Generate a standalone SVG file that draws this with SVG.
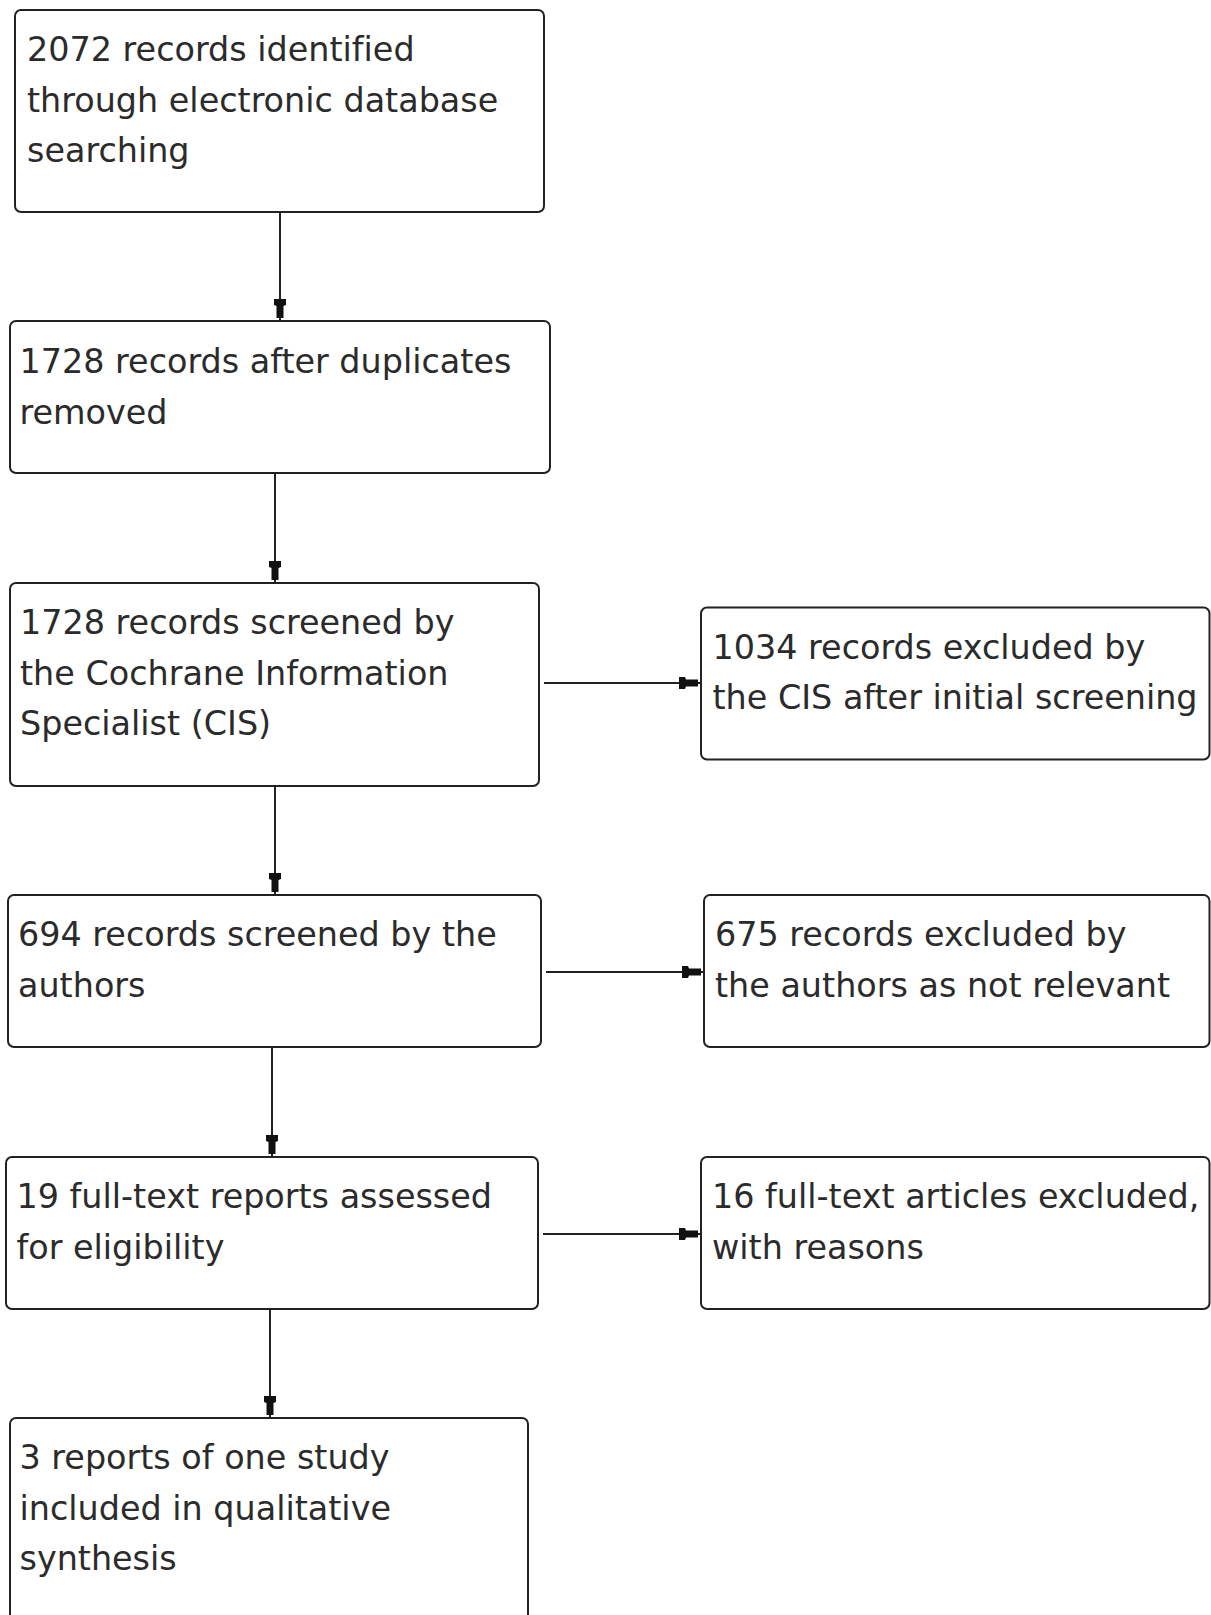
<svg xmlns="http://www.w3.org/2000/svg" width="1211" height="1615" viewBox="0 0 1211 1615">
<style>
.box{fill:#fff;stroke:#222;stroke-width:2}
.t{font-family:"DejaVu Sans",Verdana,sans-serif;font-size:33.4px;fill:#2b2b2b;font-variant-ligatures:none}
.c{stroke:#222;stroke-width:2;fill:none;marker-end:url(#ah)}
</style>
<defs>
<marker id="ah" markerUnits="userSpaceOnUse" markerWidth="24" markerHeight="14" viewBox="0 -7 24 14" refX="22" refY="0" orient="auto">
<path d="M0,-6 L6,-6 L7,-3.5 L19,-3.5 L19,3.5 L7,3.5 L6,6 L0,6 Z" fill="#111"/>
</marker>
</defs>
<rect width="1211" height="1615" fill="#fff"/>
<g id="connectors">
<line class="c" x1="280" y1="212" x2="280" y2="321"/>
<line class="c" x1="275" y1="473" x2="275" y2="583"/>
<line class="c" x1="275" y1="786" x2="275" y2="895"/>
<line class="c" x1="272" y1="1047" x2="272" y2="1157"/>
<line class="c" x1="270" y1="1309" x2="270" y2="1418"/>
<line class="c" x1="544" y1="683" x2="701" y2="683"/>
<line class="c" x1="546" y1="972" x2="704" y2="972"/>
<line class="c" x1="543" y1="1234" x2="701" y2="1234"/>
</g>
<g id="n1"><rect class="box" x="15" y="10" width="529" height="202" rx="6"/>
<text class="t"><tspan x="27" y="61">2072 records identified</tspan><tspan x="27" y="111.5">through electronic database</tspan><tspan x="27" y="162">searching</tspan></text></g>
<g id="n2"><rect class="box" x="10" y="321" width="540" height="152" rx="6"/>
<text class="t"><tspan x="19.5" y="373">1728 records after duplicates</tspan><tspan x="19.5" y="423.5">removed</tspan></text></g>
<g id="n3"><rect class="box" x="10" y="583" width="529" height="203" rx="6"/>
<text class="t"><tspan x="20" y="634">1728 records screened by</tspan><tspan x="20" y="684.5">the Cochrane Information</tspan><tspan x="20" y="735">Specialist (CIS)</tspan></text></g>
<g id="n4"><rect class="box" x="701" y="607.5" width="508.5" height="152" rx="6"/>
<text class="t"><tspan x="712.5" y="658.5">1034 records excluded by</tspan><tspan x="712.5" y="709">the CIS after initial screening</tspan></text></g>
<g id="n5"><rect class="box" x="8" y="895" width="533" height="152" rx="6"/>
<text class="t"><tspan x="18" y="946">694 records screened by the</tspan><tspan x="18" y="996.5">authors</tspan></text></g>
<g id="n6"><rect class="box" x="704" y="895" width="505.5" height="152" rx="6"/>
<text class="t"><tspan x="715" y="946">675 records excluded by</tspan><tspan x="715" y="996.5">the authors as not relevant</tspan></text></g>
<g id="n7"><rect class="box" x="6" y="1157" width="532" height="152" rx="6"/>
<text class="t"><tspan x="16.5" y="1208">19 full-text reports assessed</tspan><tspan x="16.5" y="1258.5">for eligibility</tspan></text></g>
<g id="n8"><rect class="box" x="701" y="1157" width="508.5" height="152" rx="6"/>
<text class="t"><tspan x="712" y="1208">16 full-text articles excluded,</tspan><tspan x="712" y="1258.5">with reasons</tspan></text></g>
<g id="n9"><rect class="box" x="10" y="1418" width="518" height="210" rx="6"/>
<text class="t"><tspan x="19.5" y="1469">3 reports of one study</tspan><tspan x="19.5" y="1519.5">included in qualitative</tspan><tspan x="19.5" y="1570">synthesis</tspan></text></g>
</svg>
